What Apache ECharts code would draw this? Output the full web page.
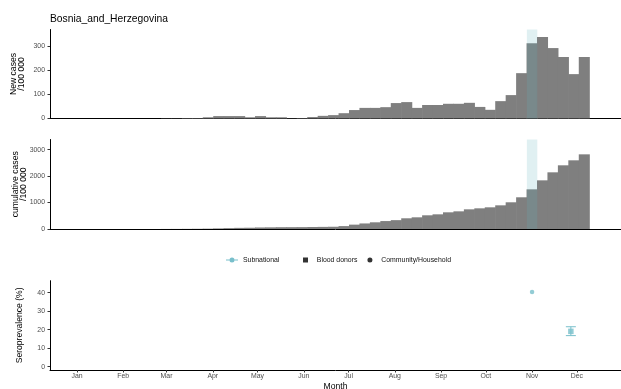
<!DOCTYPE html>
<html>
<head>
<meta charset="utf-8">
<script src="https://cdn.jsdelivr.net/npm/echarts@6/dist/echarts.min.js"></script>
<style>html,body{margin:0;padding:0;background:#fff}#c{width:621px;height:389px}</style>
</head>
<body>
<div id="c"></div>
<script>
// ---- data (x = day of 2020, 0 = Jan 1) ----
const title = 'Bosnia_and_Herzegovina';
const monthDays = [0, 31, 60, 91, 121, 152, 182, 213, 244, 274, 305, 335];
const monthNames = ['Jan','Feb','Mar','Apr','May','Jun','Jul','Aug','Sep','Oct','Nov','Dec'];
const weekDays = [60,67,74,81,88,95,102,109,116,123,130,137,144,151,158,165,172,179,186,193,200,207,214,221,228,235,242,249,256,263,270,277,284,291,298,305,312,319,326,333,340];
const newCases = [1,1,2,2,5,10,10,10,5,10,5,5,1,2,6,11,14,22,35,44,44,47,64,68,44,56,56,61,61,65,48,36,72,97,188,312,338,292,255,184,255];
const cumCases = [2,3,5,8,13,23,33,43,48,58,63,68,69,71,76,80,85,110,165,210,253,300,335,405,442,518,555,631,668,744,782,820,895,1010,1199,1500,1840,2143,2408,2597,2823];
const highlightWeek = [301.5, 308.5];
const seroDays = [305, 331];
const seroValues = [40.4, 19.1];
const seroLow = [null, 16.8];
const seroHigh = [null, 21.6];
const seroPopulation = ['Community/Household', 'Blood donors'];
const newTicks = [0, 100, 200, 300];
const cumTicks = [0, 1000, 2000, 3000];
const seroTicks = [0, 10, 20, 30, 40];

// ---- layout ----
const xMin = -18.1, xMax = 364.6;
const gridLeft = 50, chartW = 621;
const pxPerDay = (chartW - gridLeft) / (xMax - xMin);
const barW = 7 * pxPerDay + 0.6;
const teal = '#78bfcb';
const FONT = 'Liberation Sans, Arial, sans-serif';
const tickFont = 6.9, titleFont = 8.6;

const grids = [
  {left: gridLeft, right: 0, top: 29.5, height: 89, containLabel: false, outerBoundsMode: 'none'},
  {left: gridLeft, right: 0, top: 139.5, height: 89.5, containLabel: false, outerBoundsMode: 'none'},
  {left: gridLeft, right: 0, top: 280.7, height: 89.3, containLabel: false, outerBoundsMode: 'none'}
];

function xAxisBase(i, showLabels) {
  return {
    type: 'value', gridIndex: i, min: xMin, max: xMax,
    axisLine: {show: true, onZero: false, lineStyle: {color: '#000', width: 1}},
    axisTick: showLabels ? {show: true, length: 2.5, customValues: monthDays, lineStyle: {color: '#333'}} : {show: false},
    axisLabel: showLabels ? {show: true, customValues: monthDays, margin: 3, fontSize: tickFont, color: '#4d4d4d', fontFamily: FONT,
      formatter: v => monthNames[monthDays.indexOf(v)] || ''} : {show: false},
    splitLine: {show: false},
    name: showLabels ? 'Month' : '', nameLocation: 'middle', nameGap: 12, nameMoveOverlap: false,
    nameTextStyle: {fontSize: titleFont, color: '#000', fontFamily: FONT}
  };
}
function yAxisBase(i, min, max, ticks, name, gap) {
  return {
    type: 'value', gridIndex: i, min: min, max: max,
    axisLine: {show: true, onZero: false, lineStyle: {color: '#000', width: 1}},
    axisTick: {show: true, length: 2.5, customValues: ticks, lineStyle: {color: '#333'}},
    axisLabel: {show: true, customValues: ticks, margin: 5, fontSize: tickFont, color: '#4d4d4d', fontFamily: FONT,
      formatter: v => String(v)},
    splitLine: {show: false},
    name: name, nameLocation: 'middle', nameRotate: 90, nameGap: gap, nameMoveOverlap: false,
    nameTextStyle: {fontSize: titleFont, color: '#000', fontFamily: FONT, lineHeight: 8, align: 'center'}
  };
}

function highlightSeries(i) {
  return {
    type: 'custom', xAxisIndex: i, yAxisIndex: i, z: 5, silent: true,
    data: [[highlightWeek[0], highlightWeek[1], 0]],
    encode: {x: [0, 1], y: 2},
    renderItem: (params, api) => {
      const a = api.coord([api.value(0), 0]);
      const b = api.coord([api.value(1), 0]);
      return {type: 'rect', shape: {x: a[0], y: params.coordSys.y, width: b[0] - a[0], height: params.coordSys.height},
        style: {fill: 'rgba(100,180,190,0.2)'}};
    }
  };
}

const subnatIcon = 'path://M0,2.1H3.6V2.9H0Z M3.5,2.5A2.5,2.5 0 1,0 8.5,2.5A2.5,2.5 0 1,0 3.5,2.5Z M8.4,2.1H12V2.9H8.4Z';

const errData = [];
seroDays.forEach((d, k) => { if (seroLow[k] != null) errData.push([d, seroLow[k], seroHigh[k]]); });
const pts = pop => seroDays.map((d, k) => seroPopulation[k] === pop ? [d, seroValues[k]] : null).filter(Boolean);

const option = {
  animation: false,
  backgroundColor: '#fff',
  title: {text: title, left: 50, top: 14.5, padding: 0,
    textStyle: {fontSize: 10.3, fontWeight: 'normal', color: '#000', fontFamily: FONT}},
  grid: grids,
  xAxis: [xAxisBase(0, false), xAxisBase(1, false), xAxisBase(2, true)],
  yAxis: [
    yAxisBase(0, 0, 369, newTicks, 'New cases\n/100 000', 24.5),
    yAxisBase(1, 0, 3384, cumTicks, 'cumulative cases\n/100 000', 22.5),
    yAxisBase(2, -1.8, 46.5, seroTicks, 'Seroprevalence (%)', 26)
  ],
  legend: [
    {left: 226, top: 256.5, itemWidth: 12, itemHeight: 5, padding: 0,
      textStyle: {fontSize: tickFont, color: '#111', fontFamily: FONT},
      data: [{name: 'Subnational', icon: subnatIcon, itemStyle: {color: teal}}]},
    {left: 303, top: 256.5, itemWidth: 5, itemHeight: 5, itemGap: 10, padding: 0,
      formatter: n => '  ' + n,
      textStyle: {fontSize: tickFont, color: '#111', fontFamily: FONT},
      data: [{name: 'Blood donors', icon: 'rect', itemStyle: {color: '#000'}},
             {name: 'Community/Household', icon: 'circle', itemStyle: {color: '#000'}}]}
  ],
  series: [
    {type: 'bar', name: 'new', xAxisIndex: 0, yAxisIndex: 0, barWidth: barW, z: 2,
      itemStyle: {color: '#7f7f7f'}, data: weekDays.map((d, k) => [d, newCases[k]])},
    highlightSeries(0),
    {type: 'bar', name: 'cum', xAxisIndex: 1, yAxisIndex: 1, barWidth: barW, z: 2,
      itemStyle: {color: '#7f7f7f'}, data: weekDays.map((d, k) => [d, cumCases[k]])},
    highlightSeries(1),
    {type: 'custom', name: 'Subnational', xAxisIndex: 2, yAxisIndex: 2, z: 3,
      data: errData, encode: {x: 0, y: [1, 2]}, itemStyle: {color: teal},
      renderItem: (params, api) => {
        const lo = api.coord([api.value(0), api.value(1)]);
        const hi = api.coord([api.value(0), api.value(2)]);
        const w = 5;
        const st = {stroke: teal, lineWidth: 1};
        return {type: 'group', children: [
          {type: 'line', shape: {x1: lo[0], y1: lo[1], x2: hi[0], y2: hi[1]}, style: st},
          {type: 'line', shape: {x1: lo[0] - w, y1: lo[1], x2: lo[0] + w, y2: lo[1]}, style: st},
          {type: 'line', shape: {x1: hi[0] - w, y1: hi[1], x2: hi[0] + w, y2: hi[1]}, style: st}
        ]};
      }},
    {type: 'scatter', name: 'Blood donors', xAxisIndex: 2, yAxisIndex: 2, z: 4, symbol: 'rect', symbolSize: 5.5,
      itemStyle: {color: teal}, data: pts('Blood donors')},
    {type: 'scatter', name: 'Community/Household', xAxisIndex: 2, yAxisIndex: 2, z: 4, symbol: 'circle', symbolSize: 4.5,
      itemStyle: {color: teal}, data: pts('Community/Household')}
  ]
};
const chart = echarts.init(document.getElementById('c'), null, {renderer: 'canvas'});
chart.setOption(option);
</script>
</body>
</html>
